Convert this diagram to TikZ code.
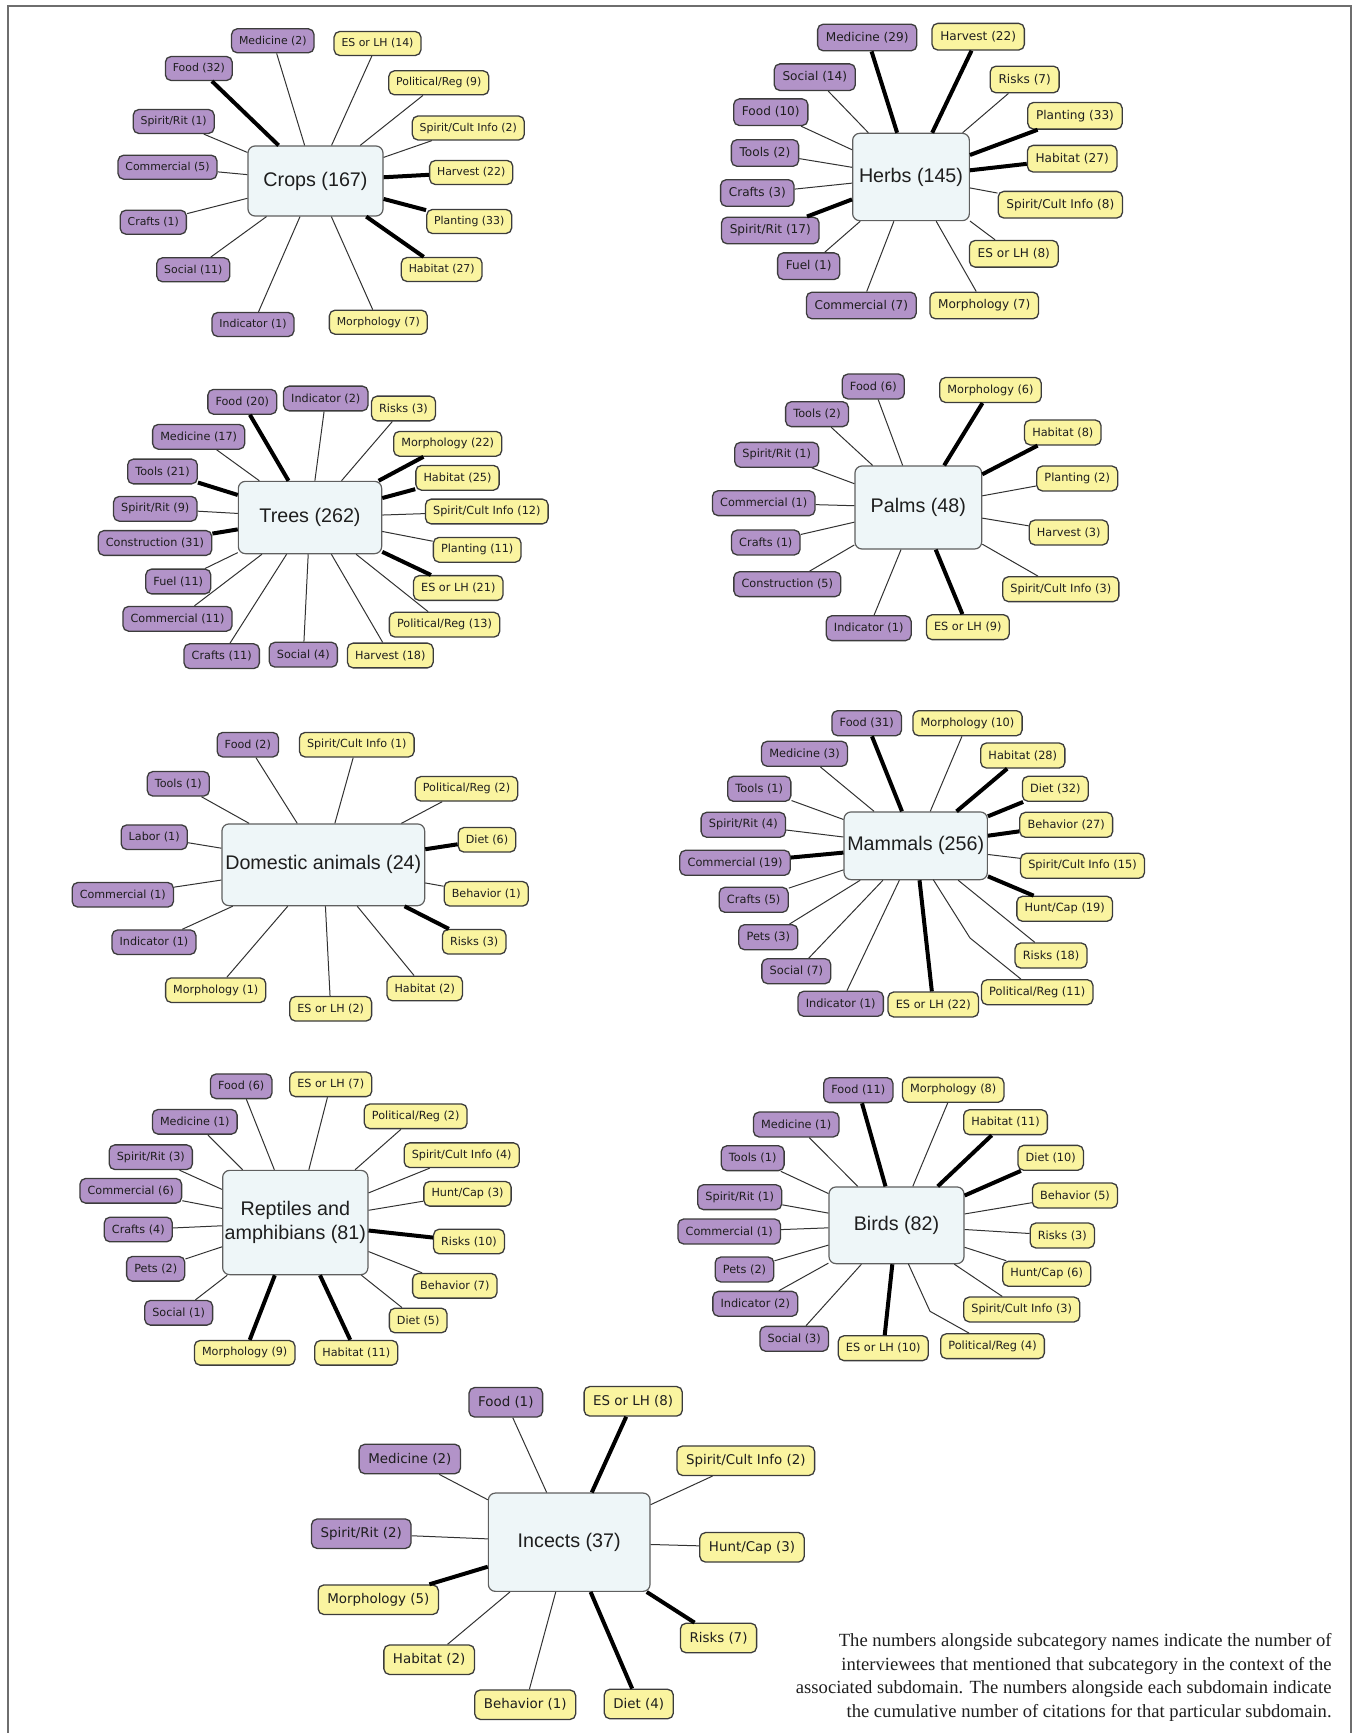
\documentclass[tikz,border=0pt]{standalone}
\usepackage{fontspec}
\setmainfont{Liberation Serif}
\newfontfamily\dejavu{DejaVu Sans}
\newfontfamily\libsans{Liberation Sans}
\definecolor{pur}{RGB}{178,147,200}
\definecolor{yel}{RGB}{250,244,160}
\definecolor{bordc}{RGB}{60,60,60}
\definecolor{cfill}{RGB}{238,246,248}
\definecolor{cbord}{RGB}{95,95,95}
\definecolor{txt}{RGB}{30,30,30}
\definecolor{lnc}{RGB}{50,50,50}
\definecolor{framec}{RGB}{110,110,110}
\tikzset{
  fs/.code={\def\fsz{#1}},
  fs=5.6pt,
  sb/.style={draw=bordc, line width=0.65pt, rounded corners=2.8pt,
    font=\dejavu\fontsize{\fsz}{\fsz}\selectfont, inner xsep={0.68*\fsz},
    inner ysep=0pt, minimum height={2.2*\fsz}, text=txt},
  pu/.style={sb, fill=pur},
  ye/.style={sb, fill=yel},
  tn/.style={draw=lnc, line width=0.5pt},
  tk/.style={draw=black, line width=2pt},
  ctr/.style={draw=cbord, fill=cfill, rounded corners=3.5pt, line width=0.6pt,
    font=\libsans\fontsize{9.85pt}{12pt}\selectfont, text=txt, align=center, inner sep=1pt},
}
\newcommand\spk[5]{\node[#1] (#2) at (#3) {#4}; \draw[#5] (\cc) -- (#2);}
\begin{document}
\begin{tikzpicture}[x=0.5pt,y=-0.5pt]
\useasboundingbox (0,0) rectangle (1353,1733);
\draw[framec, line width=1pt] (8,1740) -- (8,6) -- (1351,6) -- (1351,1740);

% Crops
\begin{scope}[fs=5.45pt]
\node[ctr, minimum width=67.5pt, minimum height=35pt] (crC) at (315.5,181) {Crops (167)};
\def\cc{crC}
\spk{pu}{crMed}{272.8,40.8}{Medicine (2)}{tn}
\spk{pu}{crFood}{198.8,68.5}{Food (32)}{tk}
\spk{ye}{crES}{377.5,43.5}{ES or LH (14)}{tn}
\spk{ye}{crPol}{438.8,82.8}{Political/Reg (9)}{tn}
\spk{ye}{crSCI}{468.3,128}{Spirit/Cult Info (2)}{tn}
\spk{ye}{crHar}{471.2,172.5}{Harvest (22)}{tk}
\spk{ye}{crPla}{469.2,221.5}{Planting (33)}{tk}
\spk{ye}{crHab}{441.7,269.5}{Habitat (27)}{tk}
\spk{ye}{crMor}{378.3,322.2}{Morphology (7)}{tn}
\spk{pu}{crInd}{253,324.5}{Indicator (1)}{tn}
\spk{pu}{crSoc}{193.3,269.8}{Social (11)}{tn}
\spk{pu}{crCra}{153.3,222.2}{Crafts (1)}{tn}
\spk{pu}{crCom}{167.5,167.2}{Commercial (5)}{tn}
\spk{pu}{crSR}{173.7,121.5}{Spirit/Rit (1)}{tn}
\end{scope}

% Herbs
\begin{scope}[fs=6.05pt]
\node[ctr, minimum width=58.35pt, minimum height=43.65pt] (heC) at (911,177) {Herbs (145)};
\def\cc{heC}
\spk{pu}{heMed}{867.2,37.5}{Medicine (29)}{tk}
\spk{ye}{heHar}{978.2,36.7}{Harvest (22)}{tk}
\spk{pu}{heSoc}{814.8,77.2}{Social (14)}{tn}
\spk{ye}{heRis}{1024.7,79.5}{Risks (7)}{tn}
\spk{pu}{heFood}{770.8,112.2}{Food (10)}{tn}
\spk{ye}{hePla}{1075,115.8}{Planting (33)}{tk}
\spk{pu}{heTo}{765,153}{Tools (2)}{tn}
\spk{ye}{heHab}{1072.2,158.7}{Habitat (27)}{tk}
\spk{pu}{heCra}{757.3,193}{Crafts (3)}{tn}
\spk{ye}{heSCI}{1060.3,204.7}{Spirit/Cult Info (8)}{tn}
\spk{pu}{heSR}{770.3,230.5}{Spirit/Rit (17)}{tk}
\spk{pu}{heFu}{808.7,266.2}{Fuel (1)}{tn}
\spk{ye}{heES}{1013.8,253.8}{ES or LH (8)}{tn}
\spk{pu}{heCom}{861.3,305.5}{Commercial (7)}{tn}
\spk{ye}{heMor}{984.2,305.5}{Morphology (7)}{tn}
\end{scope}

% Trees
\begin{scope}[fs=5.62pt]
\node[ctr, minimum width=71.65pt, minimum height=36.15pt] (trC) at (310,517.5) {Trees (262)};
\def\cc{trC}
\spk{pu}{trFood}{242.3,401.8}{Food (20)}{tk}
\spk{pu}{trInd}{325.8,398.5}{Indicator (2)}{tn}
\spk{ye}{trRis}{403.5,408.5}{Risks (3)}{tn}
\spk{pu}{trMed}{198.7,436.8}{Medicine (17)}{tn}
\spk{ye}{trMor}{447.7,443.8}{Morphology (22)}{tk}
\spk{pu}{trTo}{162.5,471.5}{Tools (21)}{tk}
\spk{ye}{trHab}{457.5,477.8}{Habitat (25)}{tk}
\spk{pu}{trSR}{155.3,508.8}{Spirit/Rit (9)}{tn}
\spk{ye}{trSCI}{486.8,511.5}{Spirit/Cult Info (12)}{tn}
\spk{pu}{trCon}{155,543}{Construction (31)}{tk}
\spk{ye}{trPla}{477.2,549.8}{Planting (11)}{tn}
\spk{pu}{trFu}{178.3,581.5}{Fuel (11)}{tn}
\spk{ye}{trES}{458.3,588}{ES or LH (21)}{tk}
\spk{pu}{trCom}{177.5,618.8}{Commercial (11)}{tn}
\spk{ye}{trPol}{444.5,624.7}{Political/Reg (13)}{tn}
\spk{pu}{trCra}{221.7,656.2}{Crafts (11)}{tn}
\spk{pu}{trSoc}{303.3,654.7}{Social (4)}{tn}
\spk{ye}{trHar}{390.3,655.5}{Harvest (18)}{tn}
\end{scope}

% Palms
\begin{scope}[fs=5.65pt]
\node[ctr, minimum width=63.35pt, minimum height=41.5pt] (paC) at (918.3,507.5) {Palms (48)};
\def\cc{paC}
\spk{pu}{paFood}{873.3,386.5}{Food (6)}{tn}
\spk{ye}{paMor}{990.5,390}{Morphology (6)}{tk}
\spk{pu}{paTo}{817,414.2}{Tools (2)}{tn}
\spk{ye}{paHab}{1062.8,432.5}{Habitat (8)}{tk}
\spk{pu}{paSR}{776.7,454.8}{Spirit/Rit (1)}{tn}
\spk{ye}{paPla}{1077.2,478.5}{Planting (2)}{tn}
\spk{pu}{paCom}{763.7,503.2}{Commercial (1)}{tn}
\spk{ye}{paHar}{1068.7,532.5}{Harvest (3)}{tn}
\spk{pu}{paCra}{765.8,542.5}{Crafts (1)}{tn}
\spk{pu}{paCon}{787.3,584.2}{Construction (5)}{tn}
\spk{ye}{paSCI}{1060.8,589.2}{Spirit/Cult Info (3)}{tn}
\spk{pu}{paInd}{868.7,628.2}{Indicator (1)}{tn}
\spk{ye}{paES}{967.8,627.2}{ES or LH (9)}{tk}
\end{scope}

% Domestic animals
\begin{scope}[fs=5.58pt]
\node[ctr, minimum width=101.35pt, minimum height=40.85pt] (doC) at (323.3,864.8) {Domestic animals (24)};
\def\cc{doC}
\spk{pu}{doFood}{247.8,744.7}{Food (2)}{tn}
\spk{ye}{doSCI}{356.8,744.7}{Spirit/Cult Info (1)}{tn}
\spk{pu}{doTo}{178.3,783.8}{Tools (1)}{tn}
\spk{ye}{doPol}{466.5,788.8}{Political/Reg (2)}{tn}
\spk{pu}{doLab}{154.2,837.2}{Labor (1)}{tn}
\spk{ye}{doDiet}{487,839.8}{Diet (6)}{tk}
\spk{pu}{doCom}{122.8,894.8}{Commercial (1)}{tn}
\spk{ye}{doBeh}{486.2,893.8}{Behavior (1)}{tn}
\spk{pu}{doInd}{154,942.2}{Indicator (1)}{tn}
\spk{ye}{doRis}{474.2,941.8}{Risks (3)}{tk}
\spk{ye}{doMor}{215.7,990.2}{Morphology (1)}{tn}
\spk{ye}{doHab}{424.7,988.5}{Habitat (2)}{tn}
\spk{ye}{doES}{330.7,1008.8}{ES or LH (2)}{tn}
\end{scope}

% Mammals
\begin{scope}[fs=5.68pt]
\node[ctr, minimum width=71.65pt, minimum height=33.85pt] (maC) at (915.7,845.8) {Mammals (256)};
\def\cc{maC}
\spk{pu}{maFood}{866.7,723.2}{Food (31)}{tk}
\spk{ye}{maMor}{967.5,723.2}{Morphology (10)}{tn}
\spk{pu}{maMed}{804.5,753.8}{Medicine (3)}{tn}
\spk{ye}{maHab}{1022.8,755.5}{Habitat (28)}{tk}
\spk{pu}{maTo}{759.3,788.8}{Tools (1)}{tn}
\spk{ye}{maDiet}{1055.3,788.8}{Diet (32)}{tk}
\spk{pu}{maSR}{743.3,824.8}{Spirit/Rit (4)}{tn}
\spk{ye}{maBeh}{1066.2,824.8}{Behavior (27)}{tk}
\spk{pu}{maCom}{735,862.8}{Commercial (19)}{tk}
\spk{ye}{maSCI}{1082.5,865.8}{Spirit/Cult Info (15)}{tn}
\spk{pu}{maCra}{753.7,899.8}{Crafts (5)}{tn}
\spk{ye}{maHC}{1064.7,908.8}{Hunt/Cap (19)}{tk}
\spk{pu}{maPets}{768.3,937.2}{Pets (3)}{tn}
\spk{ye}{maRis}{1051,955.5}{Risks (18)}{tn}
\spk{pu}{maSoc}{796.3,971.2}{Social (7)}{tn}
\spk{pu}{maInd}{840.7,1003.8}{Indicator (1)}{tn}
\spk{ye}{maES}{933.3,1004.5}{ES or LH (22)}{tk}
\node[ye] (maPol) at (1037.2,992.2) {Political/Reg (11)};
\coordinate (maPolA) at (933.3,879.7);
\coordinate (maPolB) at (970,938);
\draw[tn] (maPolA) -- (maPolB) -- (maPol);
\end{scope}

% Reptiles and amphibians
\begin{scope}[fs=5.6pt]
\node[ctr, minimum width=72.65pt, minimum height=52.15pt] (reC) at (295.3,1222.5) {Reptiles and\\amphibians (81)};
\def\cc{reC}
\spk{pu}{reFood}{241.2,1086.3}{Food (6)}{tn}
\spk{ye}{reES}{330.8,1084.3}{ES or LH (7)}{tn}
\spk{pu}{reMed}{194.8,1121.8}{Medicine (1)}{tn}
\spk{ye}{rePol}{415.7,1116.3}{Political/Reg (2)}{tn}
\spk{pu}{reSR}{150.8,1157.2}{Spirit/Rit (3)}{tn}
\spk{ye}{reSCI}{461.7,1155.2}{Spirit/Cult Info (4)}{tn}
\spk{pu}{reCom}{130.8,1190.8}{Commercial (6)}{tn}
\spk{ye}{reHC}{467.5,1193.8}{Hunt/Cap (3)}{tn}
\spk{pu}{reCra}{138.3,1229.5}{Crafts (4)}{tn}
\spk{ye}{reRis}{469,1241.5}{Risks (10)}{tk}
\spk{pu}{rePets}{155.7,1268.8}{Pets (2)}{tn}
\spk{ye}{reBeh}{454.8,1285.8}{Behavior (7)}{tn}
\spk{pu}{reSoc}{178.7,1312.8}{Social (1)}{tn}
\spk{ye}{reDiet}{418.2,1320.5}{Diet (5)}{tn}
\spk{ye}{reMor}{244.7,1352.8}{Morphology (9)}{tk}
\spk{ye}{reHab}{356.3,1352.8}{Habitat (11)}{tk}
\end{scope}

% Birds
\begin{scope}[fs=5.65pt]
\node[ctr, minimum width=67.5pt, minimum height=38.35pt] (biC) at (896.5,1225.3) {Birds (82)};
\def\cc{biC}
\spk{pu}{biFood}{858.3,1090.2}{Food (11)}{tk}
\spk{ye}{biMor}{953.2,1089.8}{Morphology (8)}{tn}
\spk{pu}{biMed}{796.2,1124.5}{Medicine (1)}{tn}
\spk{ye}{biHab}{1005.5,1122.2}{Habitat (11)}{tk}
\spk{pu}{biTo}{752.7,1158.2}{Tools (1)}{tn}
\spk{ye}{biDiet}{1050.7,1157.8}{Diet (10)}{tk}
\spk{pu}{biSR}{739.7,1197.2}{Spirit/Rit (1)}{tn}
\spk{ye}{biBeh}{1075,1195.5}{Behavior (5)}{tn}
\spk{pu}{biCom}{729.2,1231.5}{Commercial (1)}{tn}
\spk{ye}{biRis}{1062.3,1235.5}{Risks (3)}{tn}
\spk{pu}{biPets}{744.5,1269.5}{Pets (2)}{tn}
\spk{ye}{biHC}{1046.7,1273.8}{Hunt/Cap (6)}{tn}
\spk{pu}{biInd}{755.3,1303.8}{Indicator (2)}{tn}
\spk{ye}{biSCI}{1021.7,1309.5}{Spirit/Cult Info (3)}{tn}
\spk{pu}{biSoc}{794.2,1338.8}{Social (3)}{tn}
\spk{ye}{biES}{883.3,1348.2}{ES or LH (10)}{tk}
\node[ye] (biPol) at (992.5,1346.2) {Political/Reg (4)};
\coordinate (biPolA) at (908.3,1263.7);
\coordinate (biPolB) at (930,1311.3);
\draw[tn] (biPolA) -- (biPolB) -- (biPol);
\end{scope}

% Incects
\begin{scope}[fs=6.7pt]
\node[ctr, minimum width=80.85pt, minimum height=49.15pt] (inC) at (569.2,1542.2) {Incects (37)};
\def\cc{inC}
\spk{pu}{inFood}{505.8,1402.3}{Food (1)}{tn}
\spk{ye}{inES}{633.2,1401.3}{ES or LH (8)}{tk}
\spk{pu}{inMed}{409.8,1459}{Medicine (2)}{tn}
\spk{ye}{inSCI}{745.8,1460.7}{Spirit/Cult Info (2)}{tn}
\spk{pu}{inSR}{361.3,1533.7}{Spirit/Rit (2)}{tn}
\spk{ye}{inHC}{752,1547.3}{Hunt/Cap (3)}{tn}
\spk{ye}{inMor}{378.3,1599.7}{Morphology (5)}{tk}
\spk{ye}{inRis}{718.5,1638}{Risks (7)}{tk}
\spk{ye}{inHab}{429.2,1659.7}{Habitat (2)}{tn}
\spk{ye}{inBeh}{525.2,1704.7}{Behavior (1)}{tn}
\spk{ye}{inDiet}{638.8,1704}{Diet (4)}{tk}
\end{scope}

% Caption
\node[anchor=north east, align=right, inner sep=0pt, text=txt,
  font=\fontsize{9.3pt}{11.8pt}\selectfont] (cap) at (1332,1633)
  {The numbers alongside subcategory names indicate the number of\\
   interviewees that mentioned that subcategory in the context of the\\
   associated subdomain. The numbers alongside each subdomain indicate\\
   the cumulative number of citations for that particular subdomain.};
\end{tikzpicture}
\end{document}
